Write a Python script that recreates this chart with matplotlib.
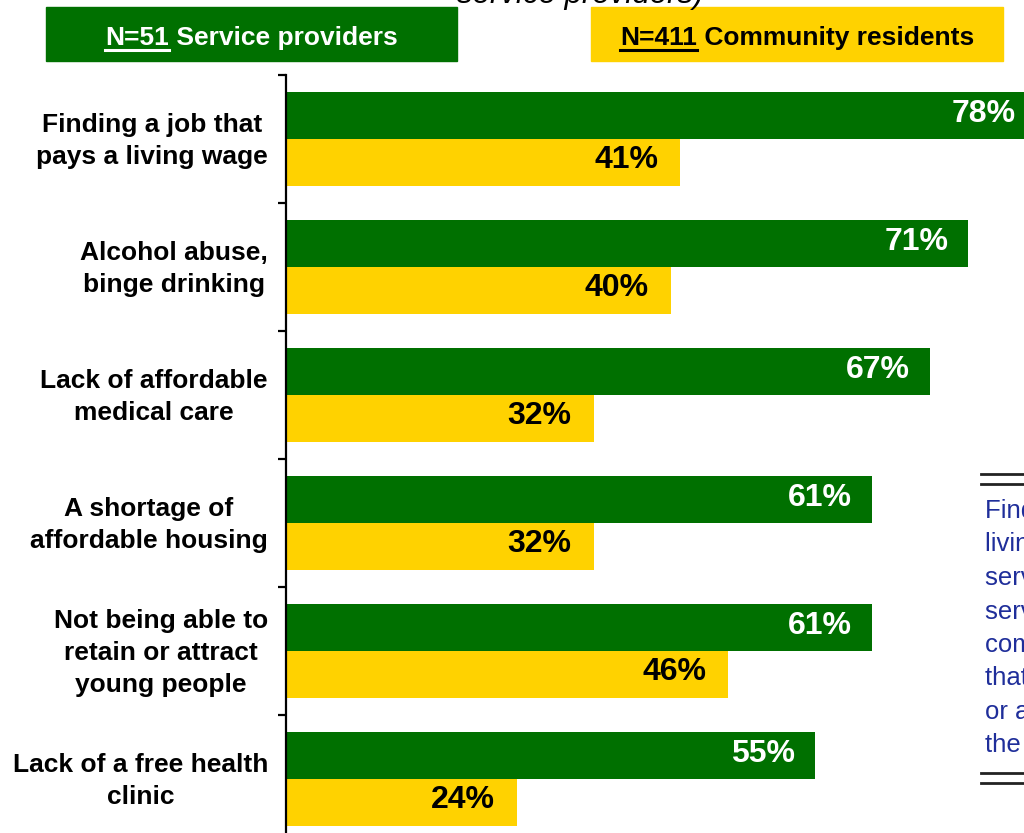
import matplotlib
matplotlib.use("Agg")
import matplotlib.pyplot as plt
from matplotlib.patches import Rectangle
from matplotlib.lines import Line2D
import numpy as np

# ---- data ----
categories = [
    "Finding a job that\npays a living wage",
    "Alcohol abuse,\nbinge drinking",
    "Lack of affordable\nmedical care",
    "A shortage of\naffordable housing",
    "Not being able to\nretain or attract\nyoung people",
    "Lack of a free health\nclinic",
]
providers = [78, 71, 67, 61, 61, 55]
residents = [41, 40, 32, 32, 46, 24]
provider_label = ("N=51", " Service providers")
resident_label = ("N=411", " Community residents")
title_tail = "service providers)"
note_lines = [
    "Finding a job that pays a",
    "living wage was named by",
    "service providers and",
    "service users alike; the",
    "community agrees",
    "that jobs matter,",
    "or a lack of them, across",
    "the region.",
]

GREEN = "#007000"
YELLOW = "#FFD200"
NOTE_BLUE = "#1F2E9A"
FONT = "Liberation Sans"

W, H = 1024, 833
plt.rcParams["font.family"] = [FONT, "DejaVu Sans"]
fig = plt.figure(figsize=(W / 100, H / 100), dpi=100)


def fx(px):
    return px / W


def fy(py):
    return 1 - py / H


# ---- bar axes ----
ax_left, ax_top, ax_bottom = 286, 75, 843
ax = fig.add_axes([fx(ax_left), fy(ax_bottom), 769 / W, (ax_bottom - ax_top) / H])
ax.set_xlim(0, 80)
n = len(categories)
ax.set_ylim(n - 0.5, -0.5)

y = np.arange(n)
bh = 47 / 128
ax.barh(y - bh / 2, providers, height=bh, color=GREEN, edgecolor="none")
ax.barh(y + bh / 2, residents, height=bh, color=YELLOW, edgecolor="none")

for yi, v in zip(y, providers):
    ax.annotate(f"{v}%", xy=(v, yi - bh / 2 - 0.012), xytext=(-20, 0),
                textcoords="offset pixels", ha="right", va="center",
                color="white", fontsize=23, fontweight="bold", annotation_clip=False)
for yi, v in zip(y, residents):
    ax.annotate(f"{v}%", xy=(v, yi + bh / 2 - 0.02), xytext=(-22, 0),
                textcoords="offset pixels", ha="right", va="center",
                color="black", fontsize=23, fontweight="bold", annotation_clip=False)

for yi, cat in zip(y, categories):
    ax.annotate(cat, xy=(0, yi), xycoords=("axes fraction", "data"),
                xytext=(-18, -2), textcoords="offset pixels",
                ha="right", va="center", multialignment="center",
                fontsize=19, fontweight="bold", color="black",
                linespacing=1.4, annotation_clip=False)

ax.set_yticks(np.arange(-0.5, n, 1.0))
ax.set_yticklabels([])
ax.tick_params(axis="y", direction="out", length=6, width=1.6, color="black")
ax.set_xticks([])
for s in ("top", "right", "bottom"):
    ax.spines[s].set_visible(False)
ax.spines["left"].set_linewidth(1.6)

# ---- legend boxes ----
renderer = fig.canvas.get_renderer()


def legend_box(x0, x1, y0, y1, color, textcolor, parts):
    fig.patches.append(Rectangle((fx(x0), fy(y1)), fx(x1) - fx(x0), (y1 - y0) / H,
                                 transform=fig.transFigure, color=color, zorder=0))
    base = 45
    t1 = fig.text(0, fy(base), parts[0], fontsize=19, fontweight="bold",
                  color=textcolor, ha="left", va="baseline")
    t2 = fig.text(0, fy(base), parts[1], fontsize=19, fontweight="bold",
                  color=textcolor, ha="left", va="baseline")
    w1 = t1.get_window_extent(renderer).width
    w2 = t2.get_window_extent(renderer).width
    start = (x0 + x1) / 2 - (w1 + w2) / 2
    t1.set_x(fx(start))
    t2.set_x(fx(start + w1))
    fig.add_artist(Line2D([fx(start), fx(start + w1)], [fy(base + 4.5)] * 2,
                          transform=fig.transFigure, color=textcolor, lw=2.2))


legend_box(46, 457, 7, 61, GREEN, "white", provider_label)
legend_box(591, 1003, 7, 61, YELLOW, "black", resident_label)

# ---- title tail at top edge ----
fig.text(fx(580), fy(3), title_tail, fontsize=22.5, style="italic",
         color="black", ha="center", va="baseline")

# ---- side note ----
for yy in (474, 484, 773, 783):
    fig.add_artist(Line2D([fx(981), fx(1030)], [fy(yy)] * 2,
                          transform=fig.transFigure, color="#222222", lw=2))
for i, line in enumerate(note_lines):
    fig.text(fx(985), fy(518 + i * 33.4), line, fontsize=18.5, color=NOTE_BLUE,
             ha="left", va="baseline")

fig.savefig("out.png", dpi=100)
